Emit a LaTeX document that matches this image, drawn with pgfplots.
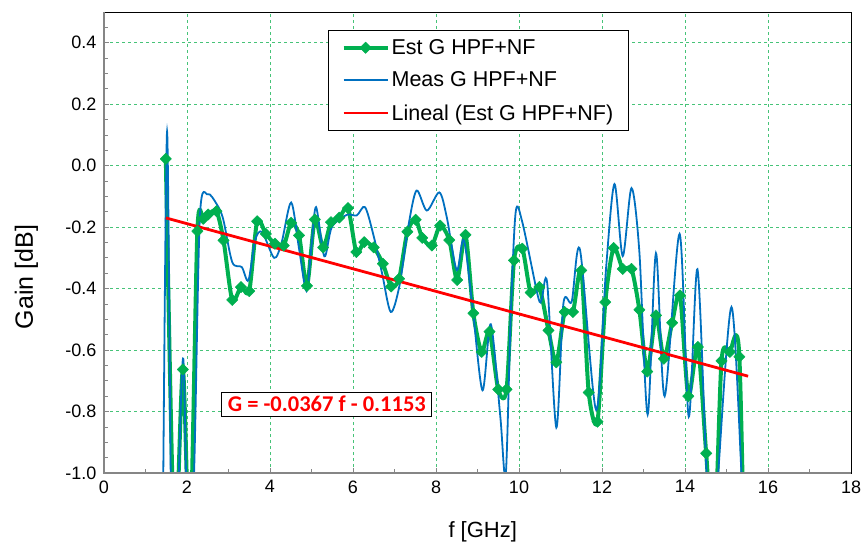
\documentclass[border=0pt]{standalone}
\usepackage{pgfplots}
\pgfplotsset{compat=1.18}
\usepackage{fontspec}
\setmainfont{Liberation Sans}
\newfontfamily\calibri{Carlito}
\definecolor{estgreen}{RGB}{0,176,80}
\definecolor{measblue}{RGB}{0,112,192}
\definecolor{gridgreen}{RGB}{70,195,120}
\definecolor{axgray}{RGB}{134,134,134}

\begin{document}
\begin{tikzpicture}
\begin{axis}[
  scale only axis, width=747pt, height=461pt,
  xmin=0, xmax=18, ymin=-1, ymax=0.5,
  xtick={0,2,...,18}, minor xtick={1,3,...,17},
  ytick={-1,-0.8,-0.6,-0.4,-0.2,0,0.2,0.4},
  minor ytick={-0.95,-0.9,...,0.46},
  tick align=inside, xtick pos=bottom, ytick pos=left,
  major tick length=5pt, minor tick length=4pt,
  tick style={axgray, line width=0.8pt},
  xmajorgrids, ymajorgrids,
  major grid style={dashed, gridgreen, line width=0.7pt},
  axis line style={black, line width=0.9pt},
  ticklabel style={font=\fontsize{18}{20}\selectfont},
  /pgf/number format/assume math mode=true,
  yticklabel={\pgfmathprintnumber[fixed,fixed zerofill,precision=1,assume math mode=true]{\tick}},
  xticklabel style={yshift=-4pt},
  yticklabel style={xshift=-4pt},
  xlabel={f [GHz]}, ylabel={Gain [dB]},
  every axis x label/.style={at={(axis description cs:0.507,-0.128)}, anchor=center, font=\fontsize{22}{24}\selectfont},
  every axis y label/.style={at={(axis description cs:-0.104,0.425)}, anchor=center, rotate=90, font=\fontsize{25}{28}\selectfont},
  legend style={at={(0.300,0.961)}, anchor=north west, draw=black, line width=1pt, fill=white,
    font=\fontsize{21.5}{24}\selectfont, row sep=12pt, inner xsep=13pt, inner ysep=7pt,
    cells={anchor=west}},
  legend image code/.code={\draw[mark repeat=2,mark phase=2,#1] plot coordinates {(0pt,0pt) (22pt,0pt) (44pt,0pt)};},
]
\addplot[estgreen, line width=4pt, line join=round, smooth, tension=0.45,
  mark=square*, mark size=4pt, mark options={rotate=45, solid, line width=0.5pt, fill=estgreen}]
coordinates {
(1.49,0.022) (1.70,-1.25) (1.90,-0.663) (2.07,-1.25) (2.25,-0.213) (2.39,-0.173)
(2.51,-0.159) (2.71,-0.148) (2.88,-0.243) (3.09,-0.437) (3.30,-0.395) (3.50,-0.408)
(3.69,-0.181) (3.90,-0.222) (4.12,-0.254) (4.33,-0.260) (4.51,-0.186) (4.70,-0.227)
(4.89,-0.391) (5.08,-0.175) (5.28,-0.266) (5.47,-0.184) (5.67,-0.169) (5.88,-0.138)
(6.08,-0.281) (6.27,-0.249) (6.50,-0.266) (6.72,-0.319) (6.92,-0.393) (7.11,-0.368)
(7.31,-0.215) (7.51,-0.176) (7.67,-0.235) (7.90,-0.260) (8.10,-0.195) (8.32,-0.242)
(8.51,-0.372) (8.71,-0.225) (8.90,-0.480) (9.10,-0.606) (9.29,-0.540) (9.50,-0.728)
(9.70,-0.728) (9.88,-0.308) (10.08,-0.270) (10.28,-0.413) (10.49,-0.395) (10.71,-0.536)
(10.90,-0.640) (11.10,-0.476) (11.30,-0.476) (11.50,-0.341) (11.68,-0.738) (11.89,-0.833)
(12.08,-0.444) (12.28,-0.268) (12.50,-0.336) (12.71,-0.336) (12.90,-0.469) (13.09,-0.670)
(13.30,-0.487) (13.49,-0.628) (13.69,-0.511) (13.88,-0.422) (14.08,-0.750) (14.31,-0.590)
(14.51,-0.936) (14.70,-1.25) (14.88,-0.635) (15.08,-0.606) (15.31,-0.622) (15.50,-1.8)
};
\addlegendentry{Est G HPF+NF}
\addplot[measblue, line width=1.8pt, smooth, tension=0.5]
coordinates {
(1.42,-1.15) (1.52,0.111) (1.62,-1.15) (1.70,-1.35) (1.78,-1.1) (1.91,-0.628)
(2.03,-1.3) (2.17,-1.0) (2.31,-0.168) (2.50,-0.093) (2.71,-0.124) (2.87,-0.173)
(3.09,-0.314) (3.32,-0.330) (3.48,-0.373) (3.64,-0.243) (3.81,-0.216) (4.10,-0.300)
(4.28,-0.250) (4.51,-0.120) (4.70,-0.270) (4.88,-0.408) (5.00,-0.260) (5.11,-0.135)
(5.31,-0.295) (5.49,-0.200) (5.85,-0.160) (6.09,-0.162) (6.29,-0.135) (6.50,-0.230)
(6.70,-0.350) (6.91,-0.476) (7.12,-0.390) (7.33,-0.200) (7.53,-0.081) (7.78,-0.146)
(8.08,-0.087) (8.26,-0.168) (8.50,-0.340) (8.67,-0.241) (8.88,-0.460) (9.12,-0.731)
(9.32,-0.516) (9.55,-0.817) (9.68,-1.006) (9.80,-0.490) (9.92,-0.151) (10.08,-0.184)
(10.46,-0.427) (10.55,-0.433) (10.68,-0.383) (10.90,-0.852) (11.07,-0.449) (11.27,-0.442)
(11.47,-0.274) (11.86,-0.795) (12.10,-0.330) (12.30,-0.060) (12.50,-0.294) (12.71,-0.073)
(12.90,-0.280) (13.10,-0.810) (13.30,-0.285) (13.51,-0.750) (13.87,-0.222) (14.09,-0.817)
(14.30,-0.337) (14.52,-1.0) (14.66,-1.3) (14.80,-1.0) (15.12,-0.460) (15.36,-1.0) (15.45,-1.3)
};
\addlegendentry{Meas G HPF+NF}
\addplot[red, line width=2.8pt] coordinates {(1.49,-0.170) (15.52,-0.685)};
\addlegendentry{Lineal (Est G HPF+NF)}
\node[draw=black, line width=0.8pt, fill=white, text=red, inner xsep=6pt, inner ysep=4pt,
  font=\calibri\bfseries\fontsize{22.5}{24}\selectfont] at (axis cs:5.37,-0.776) {G = -0.0367 f - 0.1153};
\end{axis}
\draw[axgray, line width=1.6pt] (current axis.north west) -- (current axis.south west) -- (current axis.south east);
\path (current axis.south west) ++(-104pt,-76pt);
\path (current axis.north east) ++(15pt,12pt);
\end{tikzpicture}
\end{document}
